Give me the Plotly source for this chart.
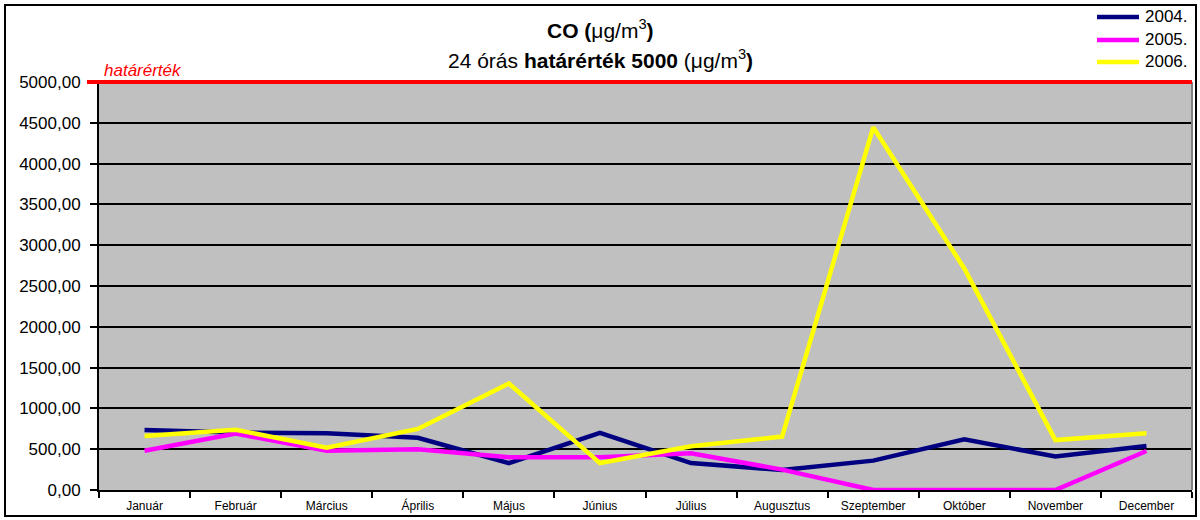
import plotly.graph_objects as go

months = ["Január", "Február", "Március", "Április", "Május", "Június",
          "Július", "Augusztus", "Szeptember", "Október", "November", "December"]
y2004 = [735, 705, 695, 640, 330, 700, 330, 245, 360, 620, 410, 540]
y2005 = [482, 692, 480, 500, 400, 400, 450, 250, 0, 0, 0, 478]
y2006 = [662, 738, 518, 748, 1305, 330, 535, 655, 4445, 2715, 612, 695]
series_names = ["2004.", "2005.", "2006."]
series_colors = ["#000080", "#FF00FF", "#FFFF00"]
limit_value = 5000

FONT = "Arial, Liberation Sans, sans-serif"

# plot area in pixels
PL, PR, PT, PB = 99, 1192, 82, 490
W, H = PR - PL, PB - PT


def px(x):
    return (x - PL) / W


def py(y):
    return (PB - y) / H


fig = go.Figure()
for name, vals, col in zip(series_names, [y2004, y2005, y2006], series_colors):
    fig.add_trace(go.Scatter(x=months, y=vals, mode="lines", name=name,
                             line=dict(color=col, width=4.5), showlegend=False))

fig.update_layout(
    width=1200, height=520,
    margin=dict(l=PL, r=1200 - PR, t=PT, b=520 - PB, autoexpand=False),
    paper_bgcolor="white", plot_bgcolor="#C0C0C0",
    separators=",.",
    font=dict(family=FONT, color="black"),
    showlegend=False,
)
fig.update_xaxes(type="category", range=[-0.5, len(months) - 0.5], showgrid=False,
                 showline=True, linecolor="black", linewidth=2,
                 ticks="outside", tickson="boundaries", ticklen=6, tickcolor="black", tickwidth=1.5,
                 tickfont=dict(size=12), ticklabelstandoff=4, fixedrange=True)
fig.update_yaxes(range=[0, 5000], dtick=500, tickformat=".2f", showgrid=True, gridcolor="black",
                 gridwidth=1.5, showline=True, linecolor="black", linewidth=2, ticks="outside",
                 ticklen=7, tickcolor="black", tickwidth=1.5, tickfont=dict(size=17),
                 ticklabelstandoff=6, zeroline=False)

shapes = []
# right edge line of plot area
shapes.append(dict(type="line", xref="paper", yref="paper", x0=1, x1=1, y0=0, y1=1,
                   line=dict(color="#808080", width=2)))
# limit line
shapes.append(dict(type="line", xref="paper", yref="paper", x0=px(87), x1=1, y0=1, y1=1,
                   line=dict(color="#FF0000", width=4)))
# outer border
shapes.append(dict(type="rect", xref="paper", yref="paper", x0=px(5), x1=px(1196), y0=py(516), y1=py(5),
                   line=dict(color="black", width=2), layer="above"))
# legend swatches
legend_y = [17, 40, 62]
for yy, col in zip(legend_y, series_colors):
    shapes.append(dict(type="line", xref="paper", yref="paper", x0=px(1097), x1=px(1139),
                       y0=py(yy), y1=py(yy), line=dict(color=col, width=4.5)))
fig.update_layout(shapes=shapes)

for yy, name in zip(legend_y, series_names):
    fig.add_annotation(xref="paper", yref="paper", x=px(1143), y=py(yy), xanchor="left", yanchor="middle",
                       text=name, showarrow=False, font=dict(size=17))

fig.add_annotation(xref="paper", yref="paper", x=px(102), y=py(70), xanchor="left", yanchor="middle",
                   text="<i>határérték</i>", showarrow=False, font=dict(size=17, color="#FF0000"))
fig.add_annotation(xref="paper", yref="paper", x=px(600), y=py(29),
                   xanchor="center", yanchor="middle", showarrow=False,
                   text="<b>CO (</b>μg/m<sup>3</sup><b>)</b>", font=dict(size=21))
fig.add_annotation(xref="paper", yref="paper", x=px(600), y=py(59),
                   xanchor="center", yanchor="middle", showarrow=False,
                   text="24 órás <b>határérték 5000</b> (μg/m<sup>3</sup><b>)</b>", font=dict(size=21))

fig.write_html("out.html")
